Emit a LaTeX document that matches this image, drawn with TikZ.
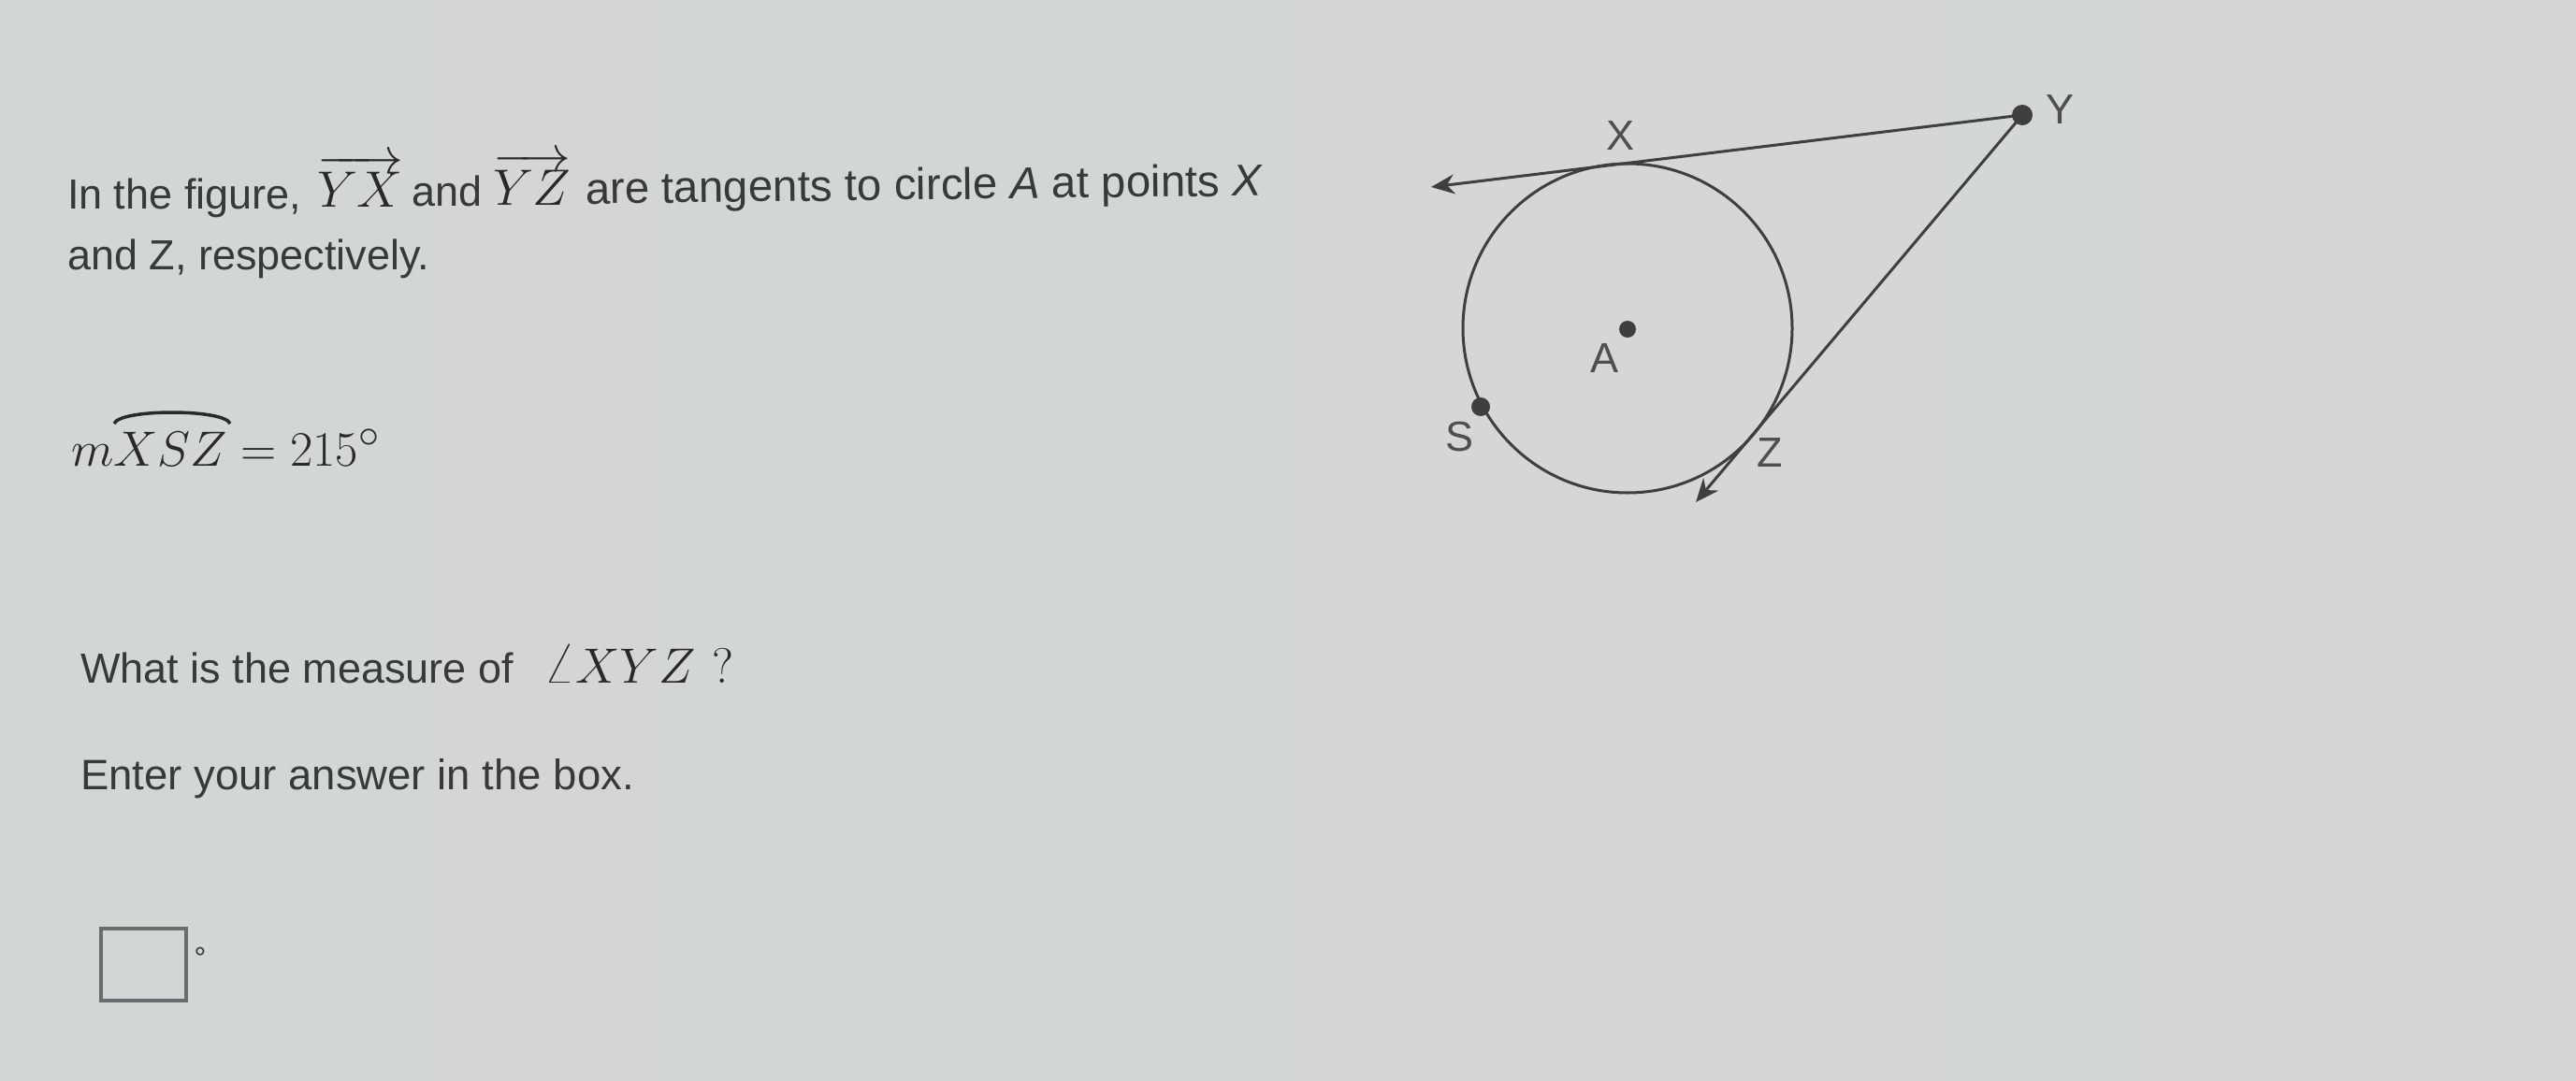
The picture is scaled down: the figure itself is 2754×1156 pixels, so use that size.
\documentclass[tikz,border=0pt]{standalone}
\usepackage{graphicx}
\usepackage[no-math]{fontspec}
\setmainfont{Liberation Sans}
\usetikzlibrary{arrows.meta}
\definecolor{bgL}{RGB}{210,214,213}
\definecolor{bgM}{RGB}{224,227,226}
\definecolor{bgR}{RGB}{213,215,215}
\definecolor{ink}{RGB}{55,58,58}
\definecolor{mathink}{RGB}{40,42,42}
\definecolor{figc}{RGB}{62,64,64}
\definecolor{lblc}{RGB}{78,80,80}
\definecolor{boxc}{RGB}{105,109,109}
\newcommand{\bigmath}[2]{\scalebox{#1}{\fontsize{24.88}{30}\selectfont$#2$}}
\tikzset{
  txt/.style={anchor=base west, inner sep=0pt, outer sep=0pt, text=ink, font=\fontsize{45}{54}\selectfont},
  mth/.style={anchor=base west, inner sep=0pt, outer sep=0pt, text=mathink},
  figline/.style={draw=figc, line width=3pt},
  tip/.style={-{Stealth[length=25pt,width=21pt]}},
  dot/.style={circle, fill=figc, inner sep=0pt, minimum size=#1},
  dot/.default=18pt,
  lbl/.style={inner sep=0pt, outer sep=0pt, text=lblc, font=\fontsize{45}{54}\selectfont},
  ansbox/.style={draw=boxc, line width=3.5pt},
}
\begin{document}
\begin{tikzpicture}[x=1pt,y=-1pt]
\useasboundingbox (0,0) rectangle (2754,1156);
\shade[left color=bgL, middle color=bgM, right color=bgR] (0,0) rectangle (2754,1156);

% ---- question text ----
\node[txt] (t1a) at (72,223) {In the figure,};
\node[mth] (t1b) at (339,221) {\bigmath{2.2}{\overrightarrow{YX}}};
\node[txt] (t1c) at (440,220) {and};
\node[mth] (t1d) at (527,219) {\bigmath{2.2}{\overrightarrow{YZ}}};
\node[txt, rotate=0.7, font=\fontsize{47.5}{56}\selectfont] (t1e) at (626,218) {are tangents to circle \textit{A} at points \textit{X}};
\node[txt] (t2) at (72,288) {and Z, respectively.};

\node[mth] (t3) at (76,498) {\bigmath{2.13}{mXSZ = 215^\circ}};
\coordinate (arcL) at (122,453);
\coordinate (arcR) at (246,453);
\draw[draw=mathink, line width=3.5pt] (arcL) .. controls (128,437) and (240,437) .. (arcR);

\node[txt] (t4a) at (86,730) {What is the measure of};
\node[mth] (t4b) at (581,730) {\bigmath{2.13}{\angle XYZ}};
\node[mth] (t4c) at (761,730) {\bigmath{2.13}{?}};
\node[txt, font=\fontsize{45.5}{54}\selectfont] (t5) at (86,844) {Enter your answer in the box.};

\node[ansbox, minimum width=91pt, minimum height=77pt, inner sep=0pt] (box) at (153.5,1031.5) {};
\node[inner sep=0pt, text=ink, font=\fontsize{32}{36}\selectfont] (deg) at (214,1024) {°};

% ---- figure ----
\coordinate (C) at (1740,351);
\coordinate (L) at (1530,200);
\coordinate (M) at (1813,537);
\draw[figline] (C) circle[radius=176];
\node[dot=22pt] (Y) at (2162,123) {};
\draw[figline, tip] (Y.center) -- (L);
\draw[figline, tip] (Y.center) -- (M);
\node[dot] (A) at (1740,352) {};
\node[dot=20pt] (S) at (1583,435) {};

\node[lbl] (lX) at (1732,145) {X};
\node[lbl] (lY) at (2202,117) {Y};
\node[lbl] (lA) at (1715,383) {A};
\node[lbl] (lS) at (1560,467) {S};
\node[lbl] (lZ) at (1892,484) {Z};
\end{tikzpicture}
\end{document}
